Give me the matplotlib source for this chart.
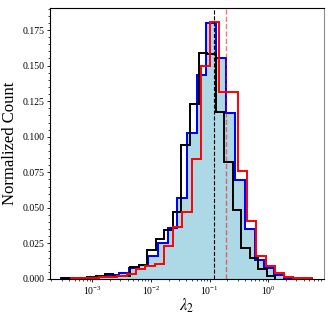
import numpy as np
import matplotlib
matplotlib.use('Agg')
from matplotlib import pyplot as plt
from matplotlib.ticker import MultipleLocator, FormatStrFormatter

plt.rcParams['font.family'] = 'serif'
plt.rcParams['font.serif'] = ['Liberation Serif', 'DejaVu Serif']
plt.rcParams['mathtext.fontset'] = 'stix'

# Bin ranges (log10 of lambda_2) and normalized counts
black_range = (-3.52, 0.12)
black_counts = [0.0007, 0.0007, 0.0010, 0.0014, 0.0018, 0.0035, 0.0020, 0.0022,
                0.0084, 0.0095, 0.0204, 0.0278, 0.0344, 0.0470, 0.0940, 0.1230,
                0.1590, 0.1580, 0.1176, 0.0824, 0.0485, 0.0216, 0.0147, 0.0070,
                0.0021]

blue_range = (-3.53, 0.425)
blue_counts = [0.0005, 0.0007, 0.0010, 0.0012, 0.0020, 0.0030, 0.0040, 0.0080,
               0.0098, 0.0160, 0.0251, 0.0360, 0.0567, 0.1024, 0.1434, 0.1803,
               0.1550, 0.1169, 0.0696, 0.0349, 0.0134, 0.0075, 0.0028, 0.0009]

red_range = (-3.36, 0.74)
red_counts = [0.0010, 0.0010, 0.0008, 0.0012, 0.0015, 0.0020, 0.0035, 0.0068,
              0.0091, 0.0105, 0.0232, 0.0368, 0.0473, 0.0841, 0.1500, 0.1810,
              0.1316, 0.1316, 0.0762, 0.0410, 0.0162, 0.0091, 0.0040, 0.0016,
              0.0005, 0.0005]

black_median = 0.12
red_median = 0.19


def log_edges(rng, counts):
    return np.logspace(rng[0], rng[1], len(counts) + 1)


fig = plt.figure(figsize=(3.32, 3.16), dpi=100)
ax = fig.add_axes([0.1506, 0.1171, 0.8253, 0.8576])

ax.stairs(blue_counts, log_edges(blue_range, blue_counts), fill=True,
          facecolor='lightblue', edgecolor='blue', lw=1.4)
ax.stairs(blue_counts, log_edges(blue_range, blue_counts), color='blue', lw=1.4)
ax.stairs(black_counts, log_edges(black_range, black_counts), color='black', lw=1.4)
ax.stairs(red_counts, log_edges(red_range, red_counts), color='red', lw=1.4)

ax.axvline(black_median, color='black', ls='--', lw=0.8)
ax.axvline(red_median, color='red', ls='--', lw=1.0, alpha=0.55)

ax.set_xscale('log')
ax.set_xlim(10**-3.722, 10**0.948)
ax.set_ylim(0, 0.1905)
ax.yaxis.set_major_locator(MultipleLocator(0.025))
ax.yaxis.set_minor_locator(MultipleLocator(0.005))
ax.yaxis.set_major_formatter(FormatStrFormatter('%.3f'))
ax.tick_params(which='major', length=2.5, width=0.6, labelsize=7, pad=1.5)
ax.tick_params(which='minor', length=1.5, width=0.5)
ax.spines['right'].set_color('0.55')
for sp in ax.spines.values():
    sp.set_linewidth(0.8)

ax.set_xlabel(r'$\lambda_2$', fontsize=12, labelpad=0)
ax.set_ylabel('Normalized Count', fontsize=12, labelpad=3)

fig.savefig('out.png', dpi=100)
